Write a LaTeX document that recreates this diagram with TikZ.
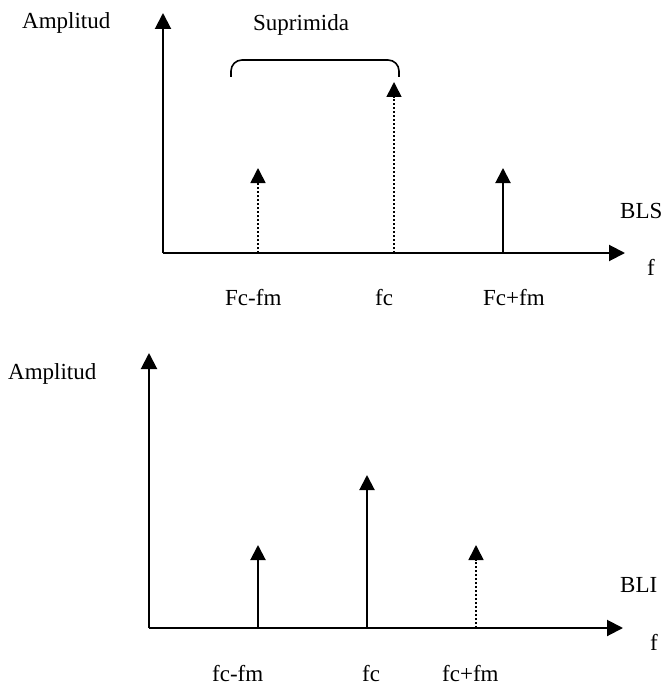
\documentclass[tikz,border=0pt]{standalone}
\usepackage{fontspec}
\setmainfont{Liberation Serif}
\usetikzlibrary{arrows.meta}
\begin{document}
\begin{tikzpicture}[x=1pt,y=-1pt,
  axis/.style={line width=2pt,-{Triangle[length=16pt,width=16pt]}},
  spike/.style={line width=2pt,-{Triangle[length=15pt,width=15pt]}},
  dspike/.style={line width=1.6pt,dash pattern=on 1.6pt off 2.4pt,-{Triangle[length=15pt,width=15pt]}},
  lbl/.style={anchor=base west,inner sep=0pt,font=\fontsize{23}{26}\selectfont}]
\useasboundingbox (0,0) rectangle (664,687);

% upper spectrum (BLS)
\coordinate (o1) at (163,253);
\coordinate (y1) at (163,13);
\coordinate (x1) at (625,253);
\coordinate (a1b) at (258,253); \coordinate (a1t) at (258,168);
\coordinate (b1b) at (394,253); \coordinate (b1t) at (394,82);
\coordinate (c1b) at (503,253); \coordinate (c1t) at (503,168);
\draw[axis] (o1) -- (y1);
\draw[axis] (o1) -- (x1);
\draw[dspike] (a1b) -- (a1t);
\draw[dspike] (b1b) -- (b1t);
\draw[spike] (c1b) -- (c1t);
\coordinate (br1) at (231,77); \coordinate (br2) at (399,77);
\draw[line width=1.6pt,rounded corners=11pt] (br1) -- (231,60) -- (399,60) -- (br2);
\node[lbl] (amp1) at (22,29) {Amplitud};
\node[lbl] (sup) at (253,31) {Suprimida};
\node[lbl] (bls) at (620,218) {BLS};
\node[lbl] (f1) at (647,275) {f};
\node[lbl] (l1a) at (225,305) {Fc-fm};
\node[lbl] (l1b) at (375,305) {fc};
\node[lbl] (l1c) at (483,305) {Fc+fm};

% lower spectrum (BLI)
\coordinate (o2) at (149,628);
\coordinate (y2) at (149,353);
\coordinate (x2) at (623,628);
\coordinate (a2b) at (258,628); \coordinate (a2t) at (258,545);
\coordinate (b2b) at (367,628); \coordinate (b2t) at (367,475);
\coordinate (c2b) at (476,628); \coordinate (c2t) at (476,545);
\draw[axis] (o2) -- (y2);
\draw[axis] (o2) -- (x2);
\draw[spike] (a2b) -- (a2t);
\draw[spike] (b2b) -- (b2t);
\draw[dspike] (c2b) -- (c2t);
\node[lbl] (amp2) at (8,379) {Amplitud};
\node[lbl] (bli) at (620,592) {BLI};
\node[lbl] (f2) at (650,650) {f};
\node[lbl] (l2a) at (212,681) {fc-fm};
\node[lbl] (l2b) at (362,681) {fc};
\node[lbl] (l2c) at (442,681) {fc+fm};
\end{tikzpicture}
\end{document}
